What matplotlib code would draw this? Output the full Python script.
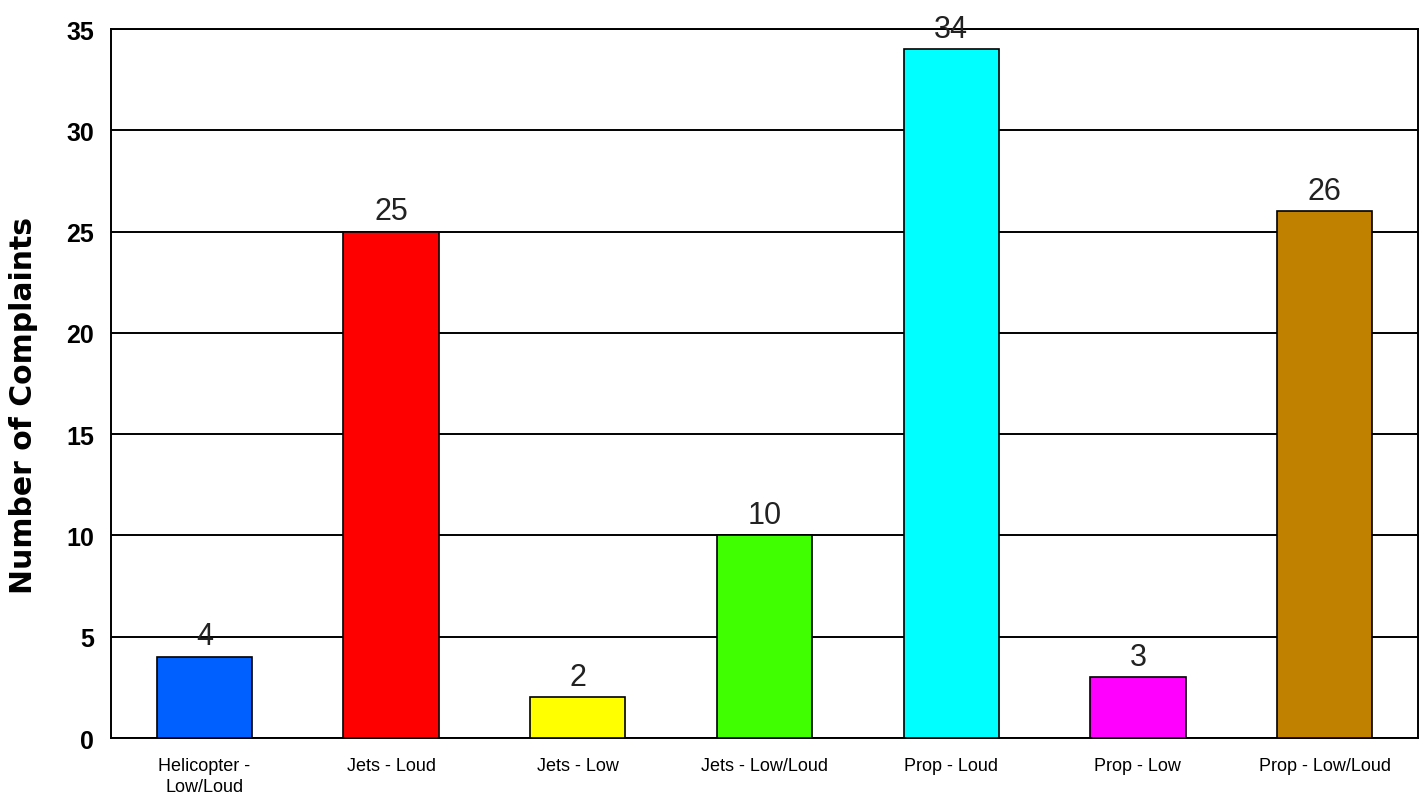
import matplotlib.pyplot as plt
import numpy as np

categories = ['Helicopter -\nLow/Loud', 'Jets - Loud', 'Jets - Low', 'Jets - Low/Loud',
              'Prop - Loud', 'Prop - Low', 'Prop - Low/Loud']
complaints = [4, 25, 2, 10, 34, 3, 26]
colors = ['#0060FF', '#FF0000', '#FFFF00', '#40FF00', '#00FFFF', '#FF00FF', '#C08000']
yticks = [0, 5, 10, 15, 20, 25, 30, 35]

font = ['Liberation Sans', 'DejaVu Sans']

fig = plt.figure(figsize=(14.21, 8.03), dpi=100)
ax = fig.add_axes([0.0781, 0.0797, 0.9198, 0.8829])

x = np.arange(len(categories))
ax.bar(x, complaints, width=0.51, color=colors, edgecolor='black', linewidth=1.2, zorder=3)

for xi, v in zip(x, complaints):
    ax.annotate(str(v), (xi, v), xytext=(0, 4), textcoords='offset points',
                ha='center', va='bottom', fontsize=22, family=font, color='#222222')

ax.set_xlim(-0.5, len(categories) - 0.5)
ax.set_ylim(0, 35)
ax.set_yticks(yticks)
ax.set_yticklabels([str(t) for t in yticks], family=font, fontsize=18, fontweight='bold')
ax.set_xticks(x)
ax.set_xticklabels(categories, family=font, fontsize=13, linespacing=1.3)
ax.tick_params(axis='both', length=0)
ax.tick_params(axis='y', pad=12)
ax.tick_params(axis='x', pad=14)
ax.yaxis.grid(True, color='black', linewidth=1.4, zorder=0)
ax.set_axisbelow(True)
for s in ax.spines.values():
    s.set_linewidth(1.4)
    s.set_color('black')

# wider font for the axis title, the original uses loose letter spacing
ax.set_ylabel('Number of Complaints', family='DejaVu Sans', fontsize=21.5, fontweight='bold')
ax.yaxis.set_label_coords(-0.056, 0.471)

fig.savefig('out.png', dpi=100)
